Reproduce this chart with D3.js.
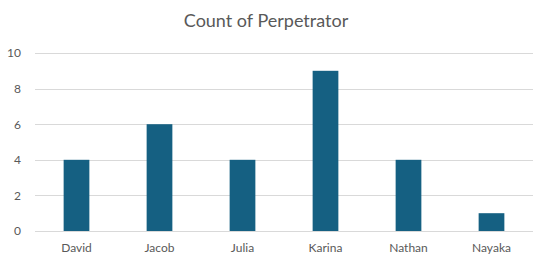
<!DOCTYPE html>
<html>
<head>
<meta charset="utf-8">
<script src="https://cdn.jsdelivr.net/npm/d3@7"></script>
<style>
  html, body { margin: 0; padding: 0; background: #fff; }
  svg { display: block; }
</style>
</head>
<body>
<svg id="chart" width="540" height="259"></svg>
<script>
const title = "Count of Perpetrator";
const categories = ["David", "Jacob", "Julia", "Karina", "Nathan", "Nayaka"];
const values = [4, 6, 4, 9, 4, 1];
const yTicks = [0, 2, 4, 6, 8, 10];

const svg = d3.select("#chart");
const margin = { left: 35, right: 7, top: 53, bottom: 28 };
const W = 540, H = 259;
const font = "Lato, 'Open Sans', sans-serif";
const textColor = "#595959";

const x = d3.scaleBand().domain(categories)
  .range([margin.left, W - margin.right])
  .paddingInner(0.69).paddingOuter(0.345);
const y = d3.scaleLinear().domain([0, 10]).range([H - margin.bottom, margin.top]);

// gridlines
svg.append("g").selectAll("line").data(yTicks).join("line")
  .attr("x1", margin.left).attr("x2", W - margin.right)
  .attr("y1", d => Math.round(y(d)) + 0.5).attr("y2", d => Math.round(y(d)) + 0.5)
  .attr("stroke", "#d9d9d9").attr("stroke-width", 1);

// y axis labels
const yAxis = d3.axisLeft(y).tickValues(yTicks).tickSize(0).tickPadding(0);
const gy = svg.append("g").attr("transform", `translate(${margin.left - 14},0)`).call(yAxis);
gy.select(".domain").remove();
gy.selectAll("text").attr("font-family", font).attr("font-size", 12).attr("fill", textColor);

// bars
svg.append("g").selectAll("rect").data(categories).join("rect")
  .attr("x", d => x(d))
  .attr("width", x.bandwidth())
  .attr("y", (d, i) => y(values[i]))
  .attr("height", (d, i) => y(0) - y(values[i]))
  .attr("fill", "#156082");

// x axis labels
const xAxis = d3.axisBottom(x).tickSize(0).tickPadding(12);
const gx = svg.append("g").attr("transform", `translate(0,${y(0)})`).call(xAxis);
gx.select(".domain").remove();
gx.selectAll("text").attr("font-family", font).attr("font-size", 12).attr("fill", textColor);

// title
svg.append("text")
  .attr("x", 266).attr("y", 27)
  .attr("text-anchor", "middle")
  .attr("font-family", font).attr("font-size", 18)
  .attr("fill", textColor)
  .text(title);
</script>
</body>
</html>
